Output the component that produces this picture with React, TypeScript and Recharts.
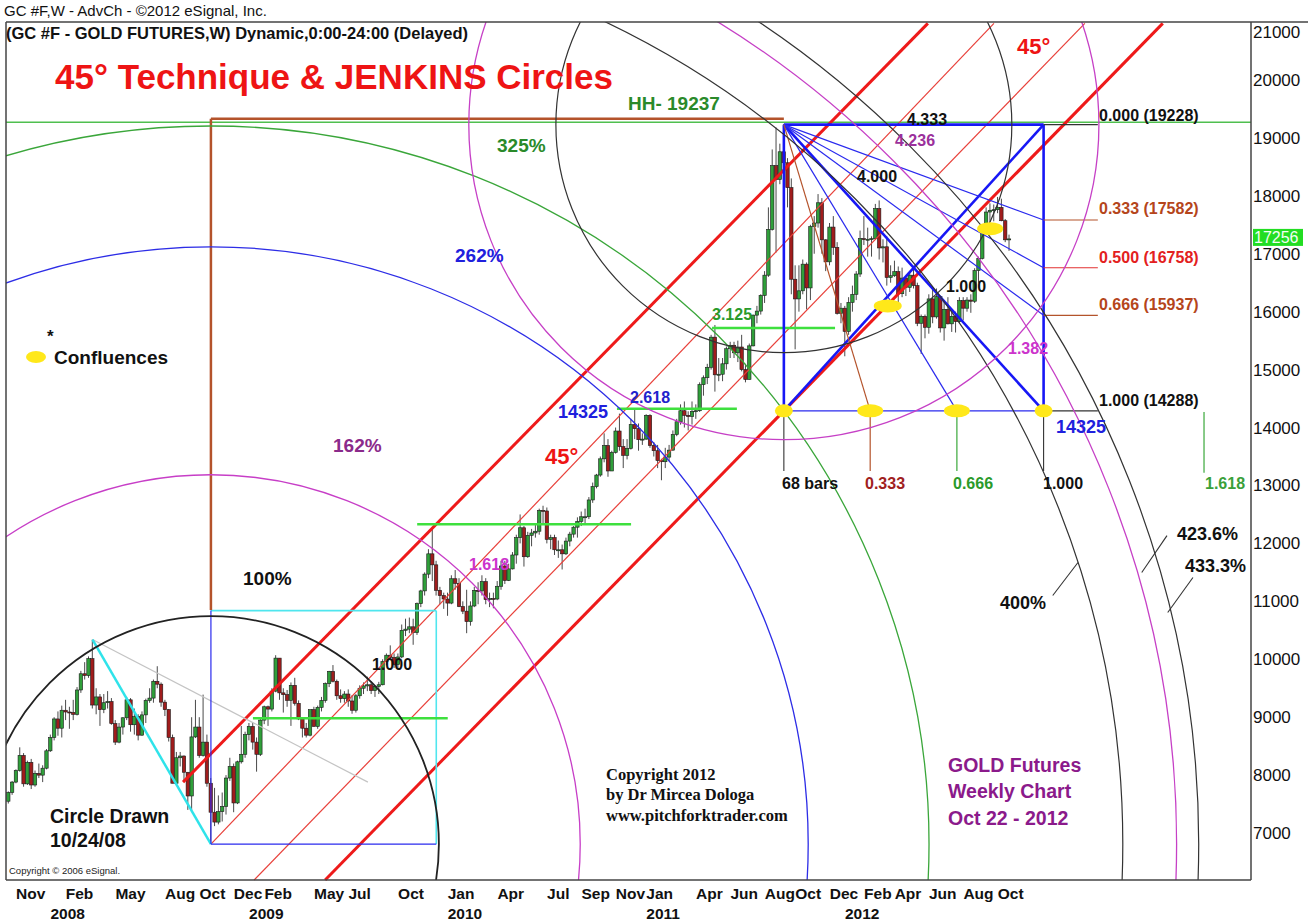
import React from 'react';
import { ComposedChart, Bar, XAxis, YAxis, ReferenceLine, ReferenceDot } from 'recharts';

const CHART_W = 1308;
const CHART_H = 923;
const PLOT_LEFT = 6;
const PLOT_TOP = 22;
const PLOT_RIGHT = 1251;
const PLOT_BOTTOM = 880;
const X_DOMAIN: [number, number] = [-0.65, 325.3];
const Y_DOMAIN: [number, number] = [6190, 21000];
const PX_PER_PRICE = (PLOT_BOTTOM - PLOT_TOP) / (Y_DOMAIN[1] - Y_DOMAIN[0]);
const FONT = '"Liberation Sans", Arial, sans-serif';

// weekly GC bars, week 0 = Oct 15 2007 ... week 262 = Oct 22 2012
const opens = [
  7550, 7700, 7880, 8080, 8340, 7850, 8220, 7830, 8030, 8000,
  8120, 8420, 8650, 8970, 8810, 9120, 9090, 9080, 9050, 9470,
  9750, 9720, 10010, 9210, 9350, 9130, 9250, 9270, 8890, 8570,
  8830, 8990, 9300, 8870, 9010, 8690, 9040, 9290, 9330, 9620,
  9570, 9260, 9130, 8650, 7860, 8300, 8330, 8050, 7640, 8660,
  8830, 8340, 8570, 7860, 7360, 7190, 7370, 7460, 7950, 8150,
  7520, 8230, 8360, 8700, 8840, 8570, 8360, 8950, 9180, 9140,
  9450, 10020, 9420, 9390, 9290, 9550, 9240, 8970, 8810, 8690,
  9130, 8840, 9170, 9290, 9580, 9790, 9620, 9370, 9320, 9400,
  9280, 9120, 9370, 9500, 9540, 9560, 9460, 9530, 9560, 9960,
  10070, 10030, 9910, 10040, 10500, 10520, 10560, 10460, 10960, 11180,
  11470, 11820, 11630, 11190, 11100, 11040, 10970, 11390, 11310, 10910,
  10830, 10650, 10920, 11190, 11180, 11340, 11030, 11050, 11040, 11260,
  11610, 11360, 11560, 11800, 12100, 12270, 11770, 12140, 12180, 12210,
  12570, 12560, 12070, 12100, 11890, 11890, 11820, 12040, 12160, 12280,
  12380, 12460, 12460, 12750, 12980, 13180, 13460, 13690, 13250, 13570,
  13940, 13670, 13520, 13640, 14050, 13980, 13790, 13800, 14210, 13690,
  13600, 13430, 13410, 13490, 13610, 13880, 14100, 14290, 14210, 14190,
  14280, 14290, 14740, 14860, 15040, 15560, 14910, 14920, 15100, 15360,
  15420, 15290, 15390, 15000, 14830, 15410, 15940, 16010, 16280, 16630,
  17420, 18520, 18280, 18760, 18570, 18140, 16560, 16220, 16360, 16820,
  16410, 17470, 17530, 17880, 17240, 16860, 17460, 17110, 15970, 16060,
  15660, 16160, 16300, 16650, 17260, 17250, 17250, 17260, 17780, 17100,
  17120, 16590, 16620, 16690, 16310, 16580, 16420, 16630, 16450, 15800,
  15920, 15730, 16220, 15910, 16260, 15720, 16040, 15790, 15920, 15830,
  16190, 16060, 16200, 16180, 16710, 16920, 17380, 17720, 17750, 17760,
  17800, 17570, 17240,
];

const highs = [
  7720, 7900, 8100, 8480, 8380, 8250, 8280, 8080, 8200, 8170,
  8450, 8700, 9000, 9100, 9200, 9300, 9180, 9300, 9520, 9800,
  9950, 10050, 10340, 9500, 9400, 9400, 9450, 9330, 8950, 8900,
  9000, 9350, 9330, 9150, 9050, 9100, 9320, 9500, 9650, 9880,
  9600, 9300, 9140, 8700, 8400, 8400, 8340, 8050, 9000, 9300,
  9000, 9390, 8700, 7950, 7780, 7650, 7700, 8000, 8300, 8200,
  8250, 8850, 8750, 8900, 8900, 8650, 9000, 9200, 9200, 9500,
  10070, 10020, 9500, 9470, 9600, 9680, 9290, 9000, 8900, 9130,
  9180, 9200, 9350, 9600, 9800, 9900, 9650, 9480, 9450, 9480,
  9380, 9400, 9550, 9600, 9700, 9620, 9550, 9610, 10000, 10100,
  10240, 10100, 10100, 10600, 10700, 10720, 10700, 10980, 11200, 11500,
  11900, 12270, 11700, 11250, 11150, 11150, 11450, 11540, 11400, 11000,
  11200, 11000, 11250, 11330, 11450, 11400, 11150, 11150, 11350, 11700,
  11700, 11650, 11850, 12150, 12500, 12300, 12200, 12250, 12350, 12600,
  12650, 12620, 12150, 12150, 12050, 11980, 12100, 12200, 12300, 12450,
  12550, 12600, 12800, 13050, 13200, 13500, 13900, 13800, 13600, 14000,
  14240, 13800, 13800, 14150, 14325, 14070, 13900, 14230, 14230, 13750,
  13700, 13460, 13650, 13700, 13950, 14150, 14400, 14450, 14280, 14450,
  14400, 14780, 14900, 15100, 15600, 15770, 15200, 15200, 15400, 15480,
  15480, 15500, 15600, 15100, 15450, 15950, 16100, 16300, 16700, 17800,
  18800, 19179, 18900, 19237, 18650, 18300, 16800, 16800, 16900, 16850,
  17500, 17650, 18030, 17960, 17250, 17530, 17650, 17200, 16150, 16100,
  16250, 16450, 16700, 17400, 17650, 17450, 17300, 17860, 17920, 17250,
  17300, 16800, 16880, 16780, 16760, 16600, 16700, 16790, 16500, 15950,
  15950, 16300, 16400, 16400, 16280, 16200, 16250, 16000, 16000, 16250,
  16250, 16250, 16300, 16750, 16950, 17420, 17800, 17870, 17850, 17980,
  17950, 17600, 17330,
];

const lows = [
  7510, 7660, 7860, 8060, 7800, 7830, 7760, 7800, 7950, 7880,
  8100, 8400, 8600, 8680, 8650, 8950, 8800, 8950, 9030, 9420,
  9650, 9680, 9150, 9050, 8850, 9070, 9150, 8870, 8520, 8550,
  8700, 8950, 8750, 8700, 8600, 8680, 8900, 9250, 9250, 9500,
  9180, 9020, 8580, 7860, 7850, 8150, 7900, 7400, 7400, 8640,
  8300, 8320, 7800, 6810, 7120, 7150, 7200, 7320, 7900, 7360,
  7500, 8200, 8300, 8600, 8440, 8060, 8330, 8880, 8850, 9100,
  9430, 9300, 9080, 9180, 8850, 9200, 8950, 8650, 8650, 8670,
  8840, 8800, 9100, 9250, 9520, 9600, 9300, 9250, 9250, 9180,
  9060, 9080, 9320, 9400, 9450, 9400, 9350, 9400, 9550, 9900,
  9980, 9850, 9840, 10020, 10400, 10450, 10250, 10420, 10900, 11100,
  11400, 11350, 11100, 10950, 10870, 10750, 10950, 11200, 10900, 10780,
  10450, 10580, 10900, 10950, 11100, 10950, 10900, 10880, 11020, 11200,
  11300, 11350, 11550, 11650, 12000, 11600, 11750, 11950, 12100, 12150,
  12350, 12000, 11900, 11800, 11750, 11550, 11800, 11950, 12100, 12100,
  12300, 12350, 12420, 12700, 12950, 13150, 13400, 13150, 13250, 13550,
  13600, 13300, 13450, 13620, 13800, 13600, 13700, 13790, 13650, 13500,
  13300, 13090, 13300, 13420, 13600, 13850, 14050, 14000, 13950, 14050,
  14150, 14270, 14550, 14750, 15000, 14620, 14800, 14800, 15000, 15200,
  15200, 15130, 14970, 14780, 14830, 15400, 15800, 15950, 16150, 16600,
  17400, 17020, 18200, 18300, 17800, 16300, 15350, 16000, 16300, 16040,
  16200, 17000, 17450, 17000, 16700, 16800, 16980, 15950, 15800, 15230,
  15600, 16000, 16200, 16600, 17150, 16950, 16950, 17250, 16900, 16850,
  16450, 16500, 16600, 16130, 16250, 16270, 16340, 16400, 15750, 15270,
  15540, 15620, 15800, 15880, 15640, 15500, 15780, 15650, 15640, 15800,
  15850, 16000, 15980, 16150, 16500, 16900, 17350, 17550, 17560, 17700,
  17560, 17200, 17050,
];

const closes = [
  7700, 7880, 8080, 8340, 7850, 8220, 7830, 8030, 8000, 8120,
  8420, 8650, 8970, 8810, 9120, 9090, 9080, 9050, 9470, 9750,
  9720, 10010, 9210, 9350, 9130, 9250, 9270, 8890, 8570, 8830,
  8990, 9300, 8870, 9010, 8690, 9040, 9290, 9330, 9620, 9570,
  9260, 9130, 8650, 7860, 8300, 8330, 8050, 7640, 8660, 8830,
  8340, 8570, 7860, 7360, 7190, 7370, 7460, 7950, 8150, 7520,
  8230, 8360, 8700, 8840, 8570, 8360, 8950, 9180, 9140, 9450,
  10020, 9420, 9390, 9290, 9550, 9240, 8970, 8810, 8690, 9130,
  8840, 9170, 9290, 9580, 9790, 9620, 9370, 9320, 9400, 9280,
  9120, 9370, 9500, 9540, 9560, 9460, 9530, 9560, 9960, 10070,
  10030, 9910, 10040, 10500, 10520, 10560, 10460, 10960, 11180, 11470,
  11820, 11630, 11190, 11100, 11040, 10970, 11390, 11310, 10910, 10830,
  10650, 10920, 11190, 11180, 11340, 11030, 11050, 11040, 11260, 11610,
  11360, 11560, 11800, 12100, 12270, 11770, 12140, 12180, 12210, 12570,
  12560, 12070, 12100, 11890, 11890, 11820, 12040, 12160, 12280, 12380,
  12460, 12460, 12750, 12980, 13180, 13460, 13690, 13250, 13570, 13940,
  13670, 13520, 13640, 14050, 13980, 13790, 13800, 14210, 13690, 13600,
  13430, 13410, 13490, 13610, 13880, 14100, 14290, 14210, 14190, 14280,
  14290, 14740, 14860, 15040, 15560, 14910, 14920, 15100, 15360, 15420,
  15290, 15390, 15000, 14830, 15410, 15940, 16010, 16280, 16630, 17420,
  18520, 18280, 18760, 18570, 18140, 16560, 16220, 16360, 16820, 16410,
  17470, 17530, 17880, 17240, 16860, 17460, 17110, 15970, 16060, 15660,
  16160, 16300, 16650, 17260, 17250, 17250, 17260, 17780, 17100, 17120,
  16590, 16620, 16690, 16310, 16580, 16420, 16630, 16450, 15800, 15920,
  15730, 16220, 15910, 16260, 15720, 16040, 15790, 15920, 15830, 16190,
  16060, 16200, 16180, 16710, 16920, 17380, 17720, 17750, 17760, 17800,
  17570, 17240, 17256,
];

const monthTicks = [2, 15, 28, 41, 50, 59, 67, 80, 89, 102, 115, 128, 141, 150, 159, 167, 180, 189, 198, 206, 215, 224, 232, 241, 250, 259];
const monthLabels = ['Nov', 'Feb', 'May', 'Aug', 'Oct', 'Dec', 'Feb', 'May', 'Jul', 'Oct', 'Jan', 'Apr', 'Jul', 'Sep', 'Nov', 'Jan', 'Apr', 'Jun', 'Aug', 'Oct', 'Dec', 'Feb', 'Apr', 'Jun', 'Aug', 'Oct'];
const yearTicks = [11, 63, 115, 167, 219];
const yearLabels = ['2008', '2009', '2010', '2011', '2012'];
const priceTicks = [7000, 8000, 9000, 10000, 11000, 12000, 13000, 14000, 15000, 16000, 17000, 18000, 19000, 20000, 21000];
const lastPrice = 17256;

// pivots: Oct 24 2008 low and the HH of Sep 2011
const swingLow = { i: 53, p: 6810 };
const swingHigh = { i: 203, p: 19228 };
const baseRadius = 3935; // 100% Jenkins radius, in price units
const lowCircleRatios = [1, 1.62, 2.62, 3.15, 4, 4.236, 4.333];
const highCircleRatios = [1, 1.382];

type Seg = { from: [number, number]; to: [number, number]; kind: string };

const segments: Seg[] = [
  // 45 degree channel
  { from: [45.7, 7879], to: [240.7, 20976], kind: 'redThick' },
  { from: [53, 6810], to: [258, 20976], kind: 'redThin' },
  { from: [64.3, 6190], to: [281.8, 20976], kind: 'redThin' },
  { from: [82.9, 6190], to: [302.2, 20976], kind: 'redThick' },
  // 2008 swing used for the circle
  { from: [22, 10340], to: [94.1, 7879], kind: 'grey' },
  { from: [22, 10340], to: [53, 6810], kind: 'cyanThick' },
  { from: [53, 10840], to: [112, 10840], kind: 'cyan' },
  { from: [112, 10840], to: [112, 6810], kind: 'cyan' },
  { from: [53, 10840], to: [53, 6810], kind: 'blue' },
  { from: [53, 6810], to: [112, 6810], kind: 'blue' },
  { from: [53, 19330], to: [203, 19330], kind: 'brownThick' },
  { from: [53, 19330], to: [53, 10850], kind: 'brownThick' },
  // breakout levels
  { from: [64, 8982], to: [115, 8982], kind: 'lime' },
  { from: [107, 12330], to: [163, 12330], kind: 'lime' },
  { from: [159.3, 14325], to: [190.7, 14325], kind: 'lime' },
  { from: [184.2, 15720], to: [216.4, 15720], kind: 'lime' },
  // HH box
  { from: [203, 19228], to: [271, 19228], kind: 'blueThick' },
  { from: [203, 19228], to: [203, 14288], kind: 'blueThick' },
  { from: [271, 19228], to: [271, 14288], kind: 'blueThick' },
  { from: [203, 14288], to: [271, 14288], kind: 'blue' },
  { from: [203, 14288], to: [271, 19228], kind: 'blueThick' },
  { from: [203, 19228], to: [271, 14288], kind: 'blueThick' },
  // fan from HH
  { from: [203, 19228], to: [271, 17582], kind: 'blue' },
  { from: [203, 19228], to: [271, 16758], kind: 'blue' },
  { from: [203, 19228], to: [271, 15937], kind: 'blue' },
  { from: [203, 19228], to: [248.3, 14288], kind: 'blue' },
  { from: [203, 19228], to: [225.6, 14288], kind: 'brown' },
  // fib extensions to the labels
  { from: [271, 19228], to: [285.2, 19228], kind: 'black' },
  { from: [271, 17582], to: [285.2, 17582], kind: 'brown' },
  { from: [271, 16758], to: [285.2, 16758], kind: 'red' },
  { from: [271, 15937], to: [285.2, 15937], kind: 'brown' },
  { from: [271, 14288], to: [285.2, 14288], kind: 'black' },
  // time markers
  { from: [203, 14288], to: [203, 13250], kind: 'black' },
  { from: [225.6, 14288], to: [225.6, 13250], kind: 'brown' },
  { from: [248.3, 14288], to: [248.3, 13250], kind: 'green' },
  { from: [271, 14288], to: [271, 13250], kind: 'black' },
  { from: [313, 14270], to: [313, 13220], kind: 'green' },
  // leaders for circle labels
  { from: [273.4, 11101], to: [280, 11670], kind: 'black' },
  { from: [303.3, 12135], to: [296.7, 11498], kind: 'black' },
  { from: [310.1, 11412], to: [303.5, 10808], kind: 'black' },
];

const confluences: [number, number, number][] = [
  [203, 14288, 9], [225.6, 14288, 13], [248.3, 14288, 13], [271, 14288, 9], [230.2, 16099, 14], [257, 17433, 13],
];

const segStyle: Record<string, { stroke: string; w: number }> = {
  redThick: { stroke: '#ee1a1a', w: 3 },
  redThin: { stroke: '#e8403a', w: 1.2 },
  grey: { stroke: '#c4c4c4', w: 1.2 },
  cyanThick: { stroke: '#2fe3ea', w: 2.5 },
  cyan: { stroke: '#4fe6ee', w: 1.6 },
  blue: { stroke: '#2a2aee', w: 1.2 },
  blueThick: { stroke: '#1717f5', w: 2.6 },
  brownThick: { stroke: '#b4532b', w: 2.5 },
  brown: { stroke: '#b4532b', w: 1.2 },
  lime: { stroke: '#3ee03e', w: 2.5 },
  black: { stroke: '#333', w: 1.1 },
  red: { stroke: '#e23030', w: 1.2 },
  green: { stroke: '#3aa83a', w: 1.2 },
};

const lowCircleStyle = [
  { stroke: '#222', w: 1.8 },
  { stroke: '#c73ec7', w: 1.3 },
  { stroke: '#2d2de6', w: 1.3 },
  { stroke: '#3aa63a', w: 1.3 },
  { stroke: '#333', w: 1.2 },
  { stroke: '#c640c6', w: 1.3 },
  { stroke: '#333', w: 1.2 },
];
const highCircleStyle = [
  { stroke: '#333', w: 1.2 },
  { stroke: '#c640c6', w: 1.3 },
];

type Note = { x: number; y: number; t: string; c?: string; s?: number; b?: boolean; f?: string };
const SERIF = '"Liberation Serif", "Times New Roman", serif';
const notes: Note[] = [
  { x: 4, y: 16, t: 'GC #F,W - AdvCh - ©2012 eSignal, Inc.', s: 15, b: false, c: '#111' },
  { x: 6, y: 39, t: '(GC #F - GOLD FUTURES,W) Dynamic,0:00-24:00 (Delayed)', s: 16.5, c: '#111' },
  { x: 55, y: 89, t: '45° Technique & JENKINS Circles', s: 35, c: '#ee1414' },
  { x: 628, y: 110, t: 'HH- 19237', s: 19, c: '#2a8a2a' },
  { x: 497, y: 152, t: '325%', s: 19, c: '#2a8a2a' },
  { x: 455, y: 262, t: '262%', s: 19, c: '#2020dd' },
  { x: 333, y: 452, t: '162%', s: 19, c: '#8b2a8b' },
  { x: 243, y: 585, t: '100%', s: 19, c: '#111' },
  { x: 47, y: 342, t: '*', s: 17, c: '#111' },
  { x: 54, y: 364, t: 'Confluences', s: 19, c: '#111' },
  { x: 50, y: 823, t: 'Circle Drawn', s: 19.5, c: '#111' },
  { x: 50, y: 847, t: '10/24/08', s: 19.5, c: '#111' },
  { x: 9, y: 874, t: 'Copyright © 2006 eSignal.', s: 9.5, b: false, c: '#222' },
  { x: 606, y: 780, t: 'Copyright 2012', s: 16.5, c: '#111', f: SERIF },
  { x: 606, y: 800, t: 'by Dr Mircea Dologa', s: 16.5, c: '#111', f: SERIF },
  { x: 606, y: 821, t: 'www.pitchforktrader.com', s: 16.5, c: '#111', f: SERIF },
  { x: 948, y: 772, t: 'GOLD Futures', s: 19.5, c: '#8b1a8b' },
  { x: 948, y: 798, t: 'Weekly Chart', s: 19.5, c: '#8b1a8b' },
  { x: 948, y: 825, t: 'Oct 22 - 2012', s: 19.5, c: '#8b1a8b' },
  { x: 545, y: 464, t: '45°', s: 22, c: '#ee1414' },
  { x: 1017, y: 54, t: '45°', s: 22, c: '#ee1414' },
  { x: 558, y: 418, t: '14325', s: 18, c: '#2020dd' },
  { x: 1056, y: 433, t: '14325', s: 18, c: '#2020dd' },
  { x: 630, y: 403, t: '2.618', s: 16, c: '#2222cc' },
  { x: 712, y: 320, t: '3.125', s: 16, c: '#2a9a2a' },
  { x: 469, y: 570, t: '1.618', s: 16, c: '#cc33cc' },
  { x: 372, y: 670, t: '1.000', s: 16, c: '#111' },
  { x: 907, y: 125, t: '4.333', s: 16, c: '#111' },
  { x: 895, y: 146, t: '4.236', s: 16, c: '#9b309b' },
  { x: 857, y: 182, t: '4.000', s: 16, c: '#111' },
  { x: 946, y: 292, t: '1.000', s: 16, c: '#111' },
  { x: 1008, y: 354, t: '1.382', s: 16, c: '#cc33cc' },
  { x: 1099, y: 121, t: '0.000 (19228)', s: 16, c: '#111' },
  { x: 1099, y: 214, t: '0.333 (17582)', s: 16, c: '#b5451b' },
  { x: 1099, y: 263, t: '0.500 (16758)', s: 16, c: '#e32020' },
  { x: 1099, y: 310, t: '0.666 (15937)', s: 16, c: '#b5451b' },
  { x: 1099, y: 406, t: '1.000 (14288)', s: 16, c: '#111' },
  { x: 782, y: 489, t: '68 bars', s: 16, c: '#111' },
  { x: 865, y: 489, t: '0.333', s: 16, c: '#a02020' },
  { x: 953, y: 489, t: '0.666', s: 16, c: '#2a9a2a' },
  { x: 1043, y: 489, t: '1.000', s: 16, c: '#111' },
  { x: 1205, y: 489, t: '1.618', s: 16, c: '#3aa03a' },
  { x: 1000, y: 609, t: '400%', s: 18, c: '#111' },
  { x: 1177, y: 540, t: '423.6%', s: 18, c: '#111' },
  { x: 1185, y: 572, t: '433.3%', s: 18, c: '#111' },
];

const bars = closes.map((c, i) => ({ i, o: opens[i], h: highs[i], l: lows[i], c, range: [lows[i], highs[i]] }));

const Candle = (props: any) => {
  const { x, y, width, height, payload } = props;
  if (x == null || y == null) return null;
  const { o, h, l, c } = payload;
  const top = Math.min(y, y + height);
  const ht = Math.abs(height);
  const cx = x + width / 2;
  const span = h - l || 1;
  const py = (v: number) => top + ((h - v) / span) * ht;
  const up = c >= o;
  const bTop = py(Math.max(o, c));
  const bBot = py(Math.min(o, c));
  return (
    <g>
      <line x1={cx} x2={cx} y1={top} y2={top + ht} stroke="#4a4a4a" strokeWidth={1} />
      <rect x={cx - 1.7} y={bTop} width={3.4} height={Math.max(1, bBot - bTop)} fill={up ? '#2f9f3a' : '#a01c1c'} stroke="#1a1a1a" strokeWidth={0.6} />
    </g>
  );
};

const ringShape = (radiusPx: number, stroke: string, w: number, id: string) => (p: any) => (
  <g>
    <defs>
      <clipPath id={id}>
        <rect x={PLOT_LEFT} y={PLOT_TOP} width={PLOT_RIGHT - PLOT_LEFT} height={PLOT_BOTTOM - PLOT_TOP} />
      </clipPath>
    </defs>
    <circle cx={p.cx} cy={p.cy} r={radiusPx} fill="none" stroke={stroke} strokeWidth={w} clipPath={`url(#${id})`} />
  </g>
);

const blobShape = (rx: number) => (p: any) => <ellipse cx={p.cx} cy={p.cy} rx={rx} ry={6.5} fill="#ffe81a" />;

const MonthTick = ({ x, y, payload }: any) => {
  const m = monthTicks.indexOf(payload.value);
  const yr = yearTicks.indexOf(payload.value);
  return (
    <g>
      {m >= 0 && (
        <text x={x} y={y + 19} fontSize={15.5} fontWeight="bold" fontFamily={FONT} fill="#111">{monthLabels[m]}</text>
      )}
      {yr >= 0 && (
        <text x={x} y={y + 39} fontSize={15.5} fontWeight="bold" fontFamily={FONT} fill="#111">{yearLabels[yr]}</text>
      )}
    </g>
  );
};

const PriceTick = ({ x, y, payload }: any) => {
  const top = payload.value === 21000;
  return (
    <text x={x + 2} y={top ? y + 16 : y + 6} fontSize={17} fontFamily={FONT} fill="#111">{payload.value}</text>
  );
};

const App = () => {
  const allTicks = Array.from(new Set([...monthTicks, ...yearTicks])).sort((a, b) => a - b);
  const priceY = (v: number) => PLOT_BOTTOM - (v - Y_DOMAIN[0]) * PX_PER_PRICE;
  return (
    <div style={{ position: 'absolute', left: 0, top: 0, width: CHART_W, height: CHART_H, background: '#fff' }}>
      <ComposedChart width={CHART_W} height={CHART_H} data={bars} margin={{ top: PLOT_TOP, right: 0, bottom: 0, left: PLOT_LEFT }}>
        <XAxis
          dataKey="i"
          type="number"
          domain={X_DOMAIN}
          allowDataOverflow
          ticks={allTicks}
          interval={0}
          tick={<MonthTick />}
          tickLine={false}
          tickSize={0}
          tickMargin={0}
          axisLine={false}
          height={CHART_H - PLOT_BOTTOM}
        />
        <YAxis
          orientation="right"
          type="number"
          domain={Y_DOMAIN}
          allowDataOverflow
          ticks={priceTicks}
          interval={0}
          tick={<PriceTick />}
          tickLine={false}
          tickSize={0}
          tickMargin={0}
          axisLine={false}
          width={CHART_W - PLOT_RIGHT}
        />
        {lowCircleRatios.map((r, k) => (
          <ReferenceDot
            key={`lc${k}`}
            x={swingLow.i}
            y={swingLow.p}
            ifOverflow="visible"
            shape={ringShape(r * baseRadius * PX_PER_PRICE, lowCircleStyle[k].stroke, lowCircleStyle[k].w, `lcclip${k}`)}
          />
        ))}
        {highCircleRatios.map((r, k) => (
          <ReferenceDot
            key={`hc${k}`}
            x={swingHigh.i}
            y={swingHigh.p}
            ifOverflow="visible"
            shape={ringShape(r * baseRadius * PX_PER_PRICE, highCircleStyle[k].stroke, highCircleStyle[k].w, `hcclip${k}`)}
          />
        ))}
        <ReferenceLine y={19270} stroke="#4fbf4f" strokeWidth={1.5} ifOverflow="visible" />
        {segments.map((s, k) => (
          <ReferenceLine
            key={`s${k}`}
            segment={[{ x: s.from[0], y: s.from[1] }, { x: s.to[0], y: s.to[1] }]}
            stroke={segStyle[s.kind].stroke}
            strokeWidth={segStyle[s.kind].w}
            ifOverflow="visible"
          />
        ))}
        {confluences.map((c, k) => (
          <ReferenceDot key={`cf${k}`} x={c[0]} y={c[1]} ifOverflow="visible" shape={blobShape(c[2])} />
        ))}
        <Bar dataKey="range" barSize={4} isAnimationActive={false} shape={(p: any) => <Candle {...p} />} />
      </ComposedChart>
      <svg width={CHART_W} height={CHART_H} style={{ position: 'absolute', left: 0, top: 0, pointerEvents: 'none' }}>
        <line x1={PLOT_LEFT} x2={CHART_W} y1={PLOT_TOP} y2={PLOT_TOP} stroke="#444" strokeWidth={1.5} />
        <line x1={PLOT_LEFT} x2={PLOT_RIGHT} y1={PLOT_BOTTOM} y2={PLOT_BOTTOM} stroke="#444" strokeWidth={1.5} />
        <line x1={PLOT_LEFT} x2={PLOT_LEFT} y1={PLOT_TOP} y2={PLOT_BOTTOM} stroke="#444" strokeWidth={1.5} />
        <line x1={PLOT_RIGHT} x2={PLOT_RIGHT} y1={PLOT_TOP} y2={PLOT_BOTTOM} stroke="#444" strokeWidth={1.5} />
        <ellipse cx={36} cy={357} rx={10} ry={6} fill="#ffe81a" />
        {notes.map((n, k) => (
          <text
            key={`n${k}`}
            x={n.x}
            y={n.y}
            fontSize={n.s ?? 16}
            fontWeight={n.b === false ? 'normal' : 'bold'}
            fontFamily={n.f ?? FONT}
            fill={n.c ?? '#111'}
          >
            {n.t}
          </text>
        ))}
        <rect x={PLOT_RIGHT + 2} y={priceY(lastPrice) - 10} width={50} height={17} fill="#22dd22" />
        <text x={PLOT_RIGHT + 3} y={priceY(lastPrice) + 4} fontSize={16} fontFamily={FONT} fill="#f4fff4">{lastPrice}</text>
      </svg>
    </div>
  );
};

export default App;
